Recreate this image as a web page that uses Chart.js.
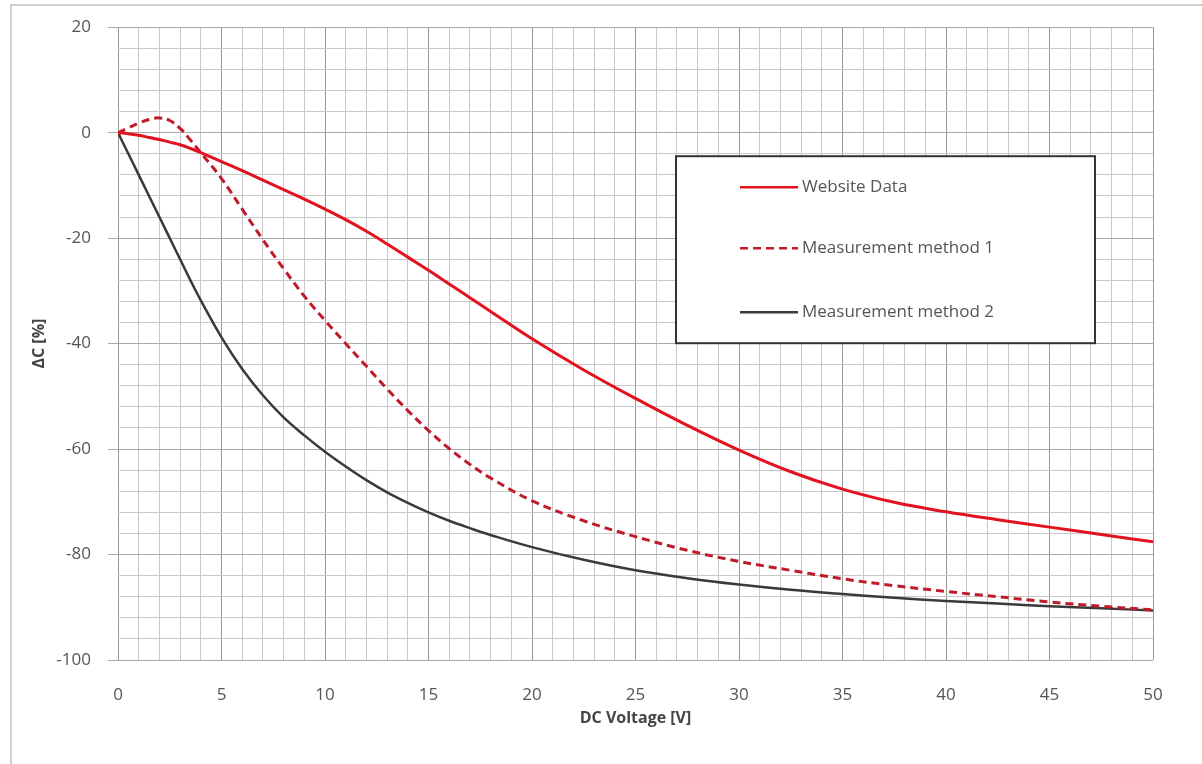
<!DOCTYPE html>
<html lang="en">
<head>
<meta charset="utf-8">
<script src="https://cdn.jsdelivr.net/npm/chart.js@4.4.1/dist/chart.umd.min.js"></script>
<style>
    html, body { margin: 0; padding: 0; background: #fff; overflow: hidden; }
    .frame { position: relative; width: 1202px; height: 764px; }
    .frame_border { position: absolute; left: 10px; top: 4px; width: 1210px; height: 780px;
        border: 2px solid #cfcfcf; pointer-events: none; }
</style>
</head>
<body>
<div class="frame">
    <canvas id="dcChart" width="1202" height="764"></canvas>
    <div class="frame_border"></div>
</div>
<script>
// DC bias voltage [V]
const voltage = [0, 0.5, 1, 1.5, 2, 2.5, 3, 3.5, 4, 5, 6, 7, 8, 9, 10, 11, 12, 13, 14, 15, 16, 17, 18,
    20, 22.5, 25, 27.5, 30, 32.5, 35, 37.5, 40, 42.5, 45, 47.5, 50];

// capacitance change [%]
const websiteData = [0, -0.2, -0.5, -0.9, -1.3, -1.8, -2.3, -3.0, -3.8, -5.5, -7.2, -9, -10.8, -12.6, -14.5,
    -16.5, -18.7, -21.1, -23.6, -26.1, -28.7, -31.3, -33.9,
    -39.1, -45, -50.4, -55.5, -60.2, -64.3, -67.6, -70.1, -71.9, -73.4, -74.8, -76.2, -77.6];
const method1 = [0, 0.9, 1.8, 2.5, 2.8, 2.3, 0.8, -1.4, -3.8, -8.7, -14.5, -20.3, -25.8, -31, -35.6,
    -40, -44.3, -48.6, -52.7, -56.5, -59.9, -62.9, -65.5,
    -69.8, -73.6, -76.6, -79.2, -81.3, -83, -84.6, -85.9, -87, -88, -89, -89.8, -90.5];
const method2 = [0, -4, -8, -12, -16, -20, -24, -28, -31.8, -38.8, -44.8, -49.8, -54, -57.4, -60.5,
    -63.3, -65.9, -68.2, -70.2, -72, -73.6, -75, -76.3,
    -78.6, -81, -83, -84.5, -85.7, -86.7, -87.5, -88.2, -88.8, -89.3, -89.8, -90.2, -90.6];

const seriesNames = ['Website Data', 'Measurement method 1', 'Measurement method 2'];

const xTicks = { min: 0, max: 50, step: 1, labelEvery: 5 };
const yTicks = { min: -100, max: 20, step: 4, labelEvery: 20 };

function points(ys) {
    return voltage.map((v, i) => ({ x: v, y: ys[i] }));
}

const FONT = '"Open Sans", "DejaVu Sans", sans-serif';

// legend box inside the plot
const boxLegend = {
    id: 'boxLegend',
    afterDraw(chart) {
        const ctx = chart.ctx;
        const area = chart.chartArea;
        const bx = area.left + 558, by = area.top + 129, bw = 419, bh = 187;
        ctx.save();
        ctx.fillStyle = '#fff';
        ctx.fillRect(bx, by, bw, bh);
        ctx.strokeStyle = '#333';
        ctx.lineWidth = 2;
        ctx.strokeRect(bx, by, bw, bh);
        ctx.font = '17px ' + FONT;
        ctx.textBaseline = 'middle';
        const rows = [31, 92, 156];
        chart.data.datasets.forEach((ds, i) => {
            const y = by + rows[i];
            ctx.beginPath();
            ctx.setLineDash(ds.borderDash || []);
            ctx.strokeStyle = ds.borderColor;
            ctx.lineWidth = 2.5;
            ctx.moveTo(bx + 64, y);
            ctx.lineTo(bx + 122, y);
            ctx.stroke();
            ctx.setLineDash([]);
            ctx.fillStyle = '#555';
            ctx.fillText(ds.label, bx + 126, y);
        });
        ctx.restore();
    }
};

const ctx = document.getElementById('dcChart').getContext('2d');
const dcChart = new Chart(ctx, {
    type: 'scatter',
    data: {
        datasets: [{
            label: seriesNames[0],
            data: points(websiteData),
            showLine: true,
            borderColor: '#e3121f',
            borderWidth: 3,
            pointRadius: 0,
            tension: 0.4
        }, {
            label: seriesNames[1],
            data: points(method1),
            showLine: true,
            borderColor: '#c01b2b',
            borderWidth: 3,
            borderDash: [8, 5],
            pointRadius: 0,
            tension: 0.4
        }, {
            label: seriesNames[2],
            data: points(method2),
            showLine: true,
            borderColor: '#3a3a3a',
            borderWidth: 2.5,
            pointRadius: 0,
            tension: 0.4
        }]
    },
    options: {
        responsive: false,
        animation: false,
        layout: { padding: { left: 0, top: 27, right: 49, bottom: 0 } },
        plugins: {
            legend: { display: false },
            tooltip: { enabled: false }
        },
        scales: {
            x: {
                type: 'linear',
                min: xTicks.min,
                max: xTicks.max,
                afterFit(scale) { scale.height = 104; },
                border: { display: false },
                grid: {
                    drawTicks: false,
                    color: (c) => c.tick.value % xTicks.labelEvery === 0 ? '#999' : '#c8c8c8',
                    lineWidth: 1
                },
                ticks: {
                    stepSize: xTicks.step,
                    autoSkip: false,
                    maxRotation: 0,
                    padding: 25,
                    color: '#555',
                    font: { family: FONT, size: 17 },
                    callback: (v) => v % xTicks.labelEvery === 0 ? String(v) : ''
                },
                title: {
                    display: true,
                    text: 'DC Voltage [V]',
                    color: '#444',
                    font: { family: FONT, size: 16, weight: 'bold' },
                    padding: { top: 0, bottom: 36 }
                }
            },
            y: {
                type: 'linear',
                min: yTicks.min,
                max: yTicks.max,
                afterFit(scale) { scale.width = 118; },
                border: { display: false },
                grid: {
                    tickLength: 10,
                    color: (c) => c.tick.value % yTicks.labelEvery === 0 ? '#aaa' : '#c8c8c8',
                    tickColor: (c) => c.tick.value % yTicks.labelEvery === 0 ? '#aaa' : 'rgba(0,0,0,0)',
                    lineWidth: 1
                },
                ticks: {
                    stepSize: yTicks.step,
                    autoSkip: false,
                    padding: 17,
                    color: '#555',
                    font: { family: FONT, size: 17 },
                    callback: (v) => v % yTicks.labelEvery === 0 ? String(v) : ''
                },
                title: {
                    display: true,
                    text: 'ΔC [%]',
                    color: '#444',
                    font: { family: FONT, size: 16, weight: 'bold' },
                    padding: { top: 30, bottom: 0 }
                }
            }
        }
    },
    plugins: [boxLegend]
});
</script>
</body>
</html>
